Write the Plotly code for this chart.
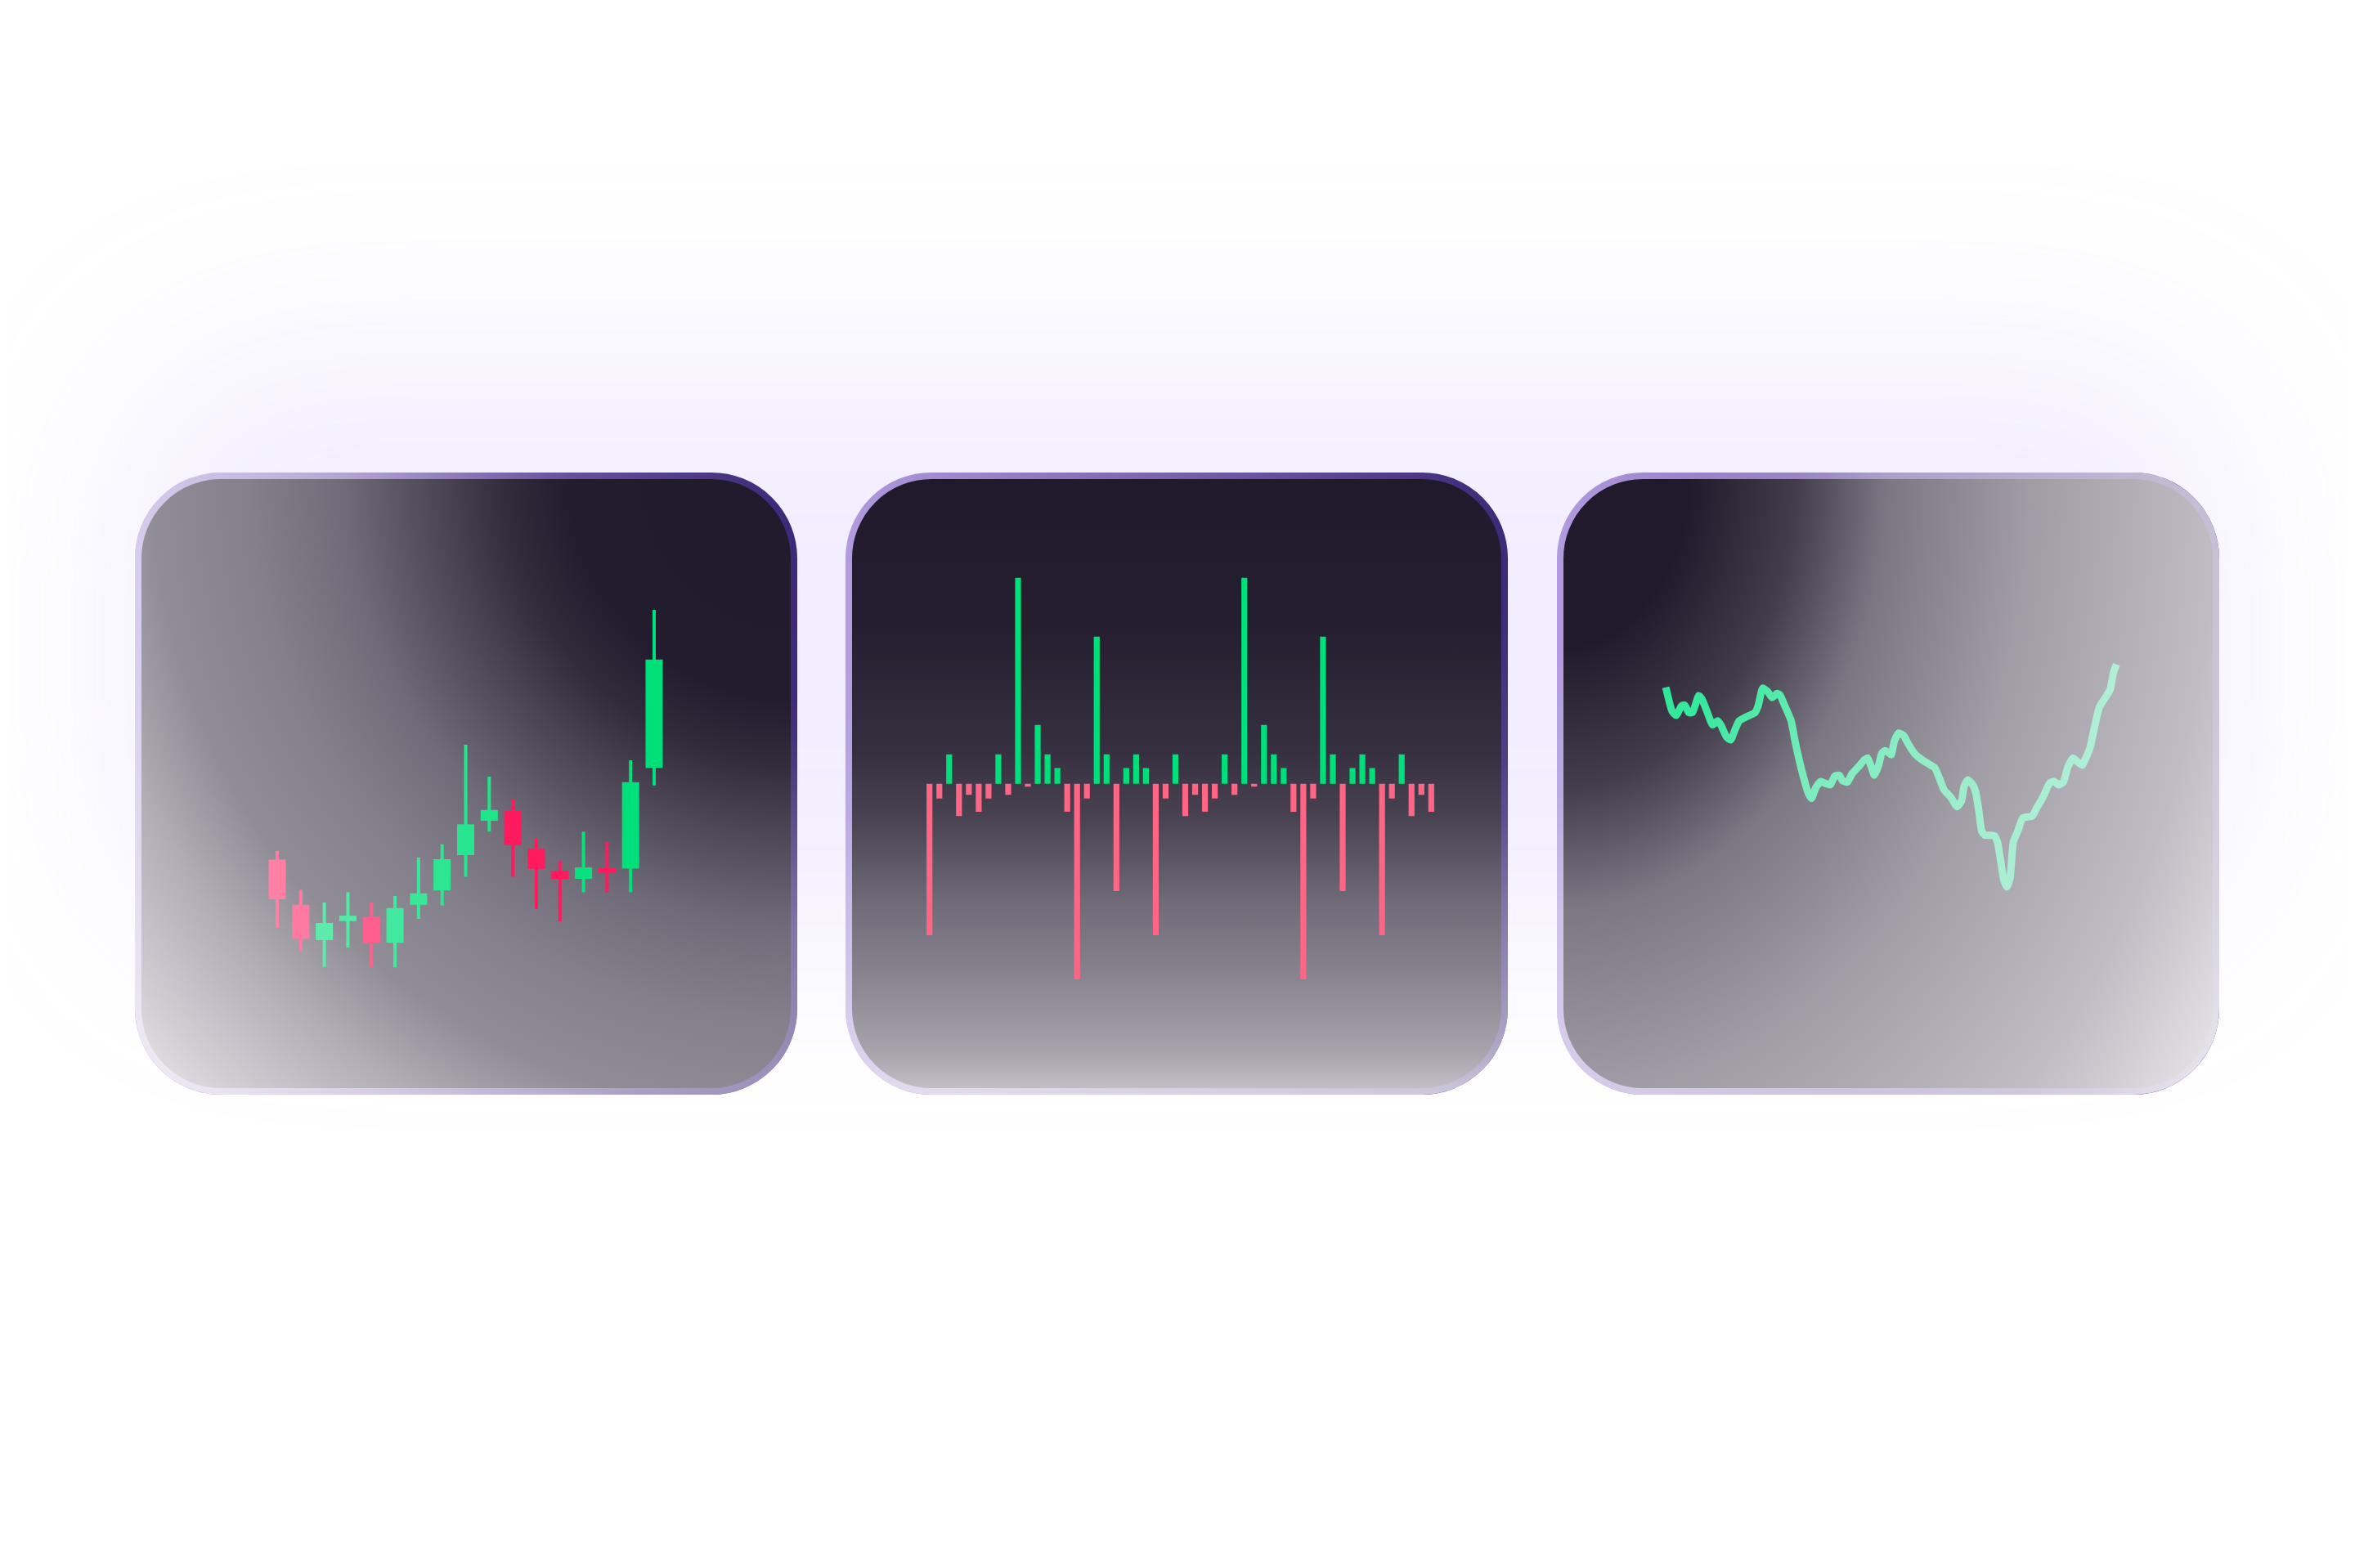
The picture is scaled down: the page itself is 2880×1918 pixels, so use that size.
import base64
import plotly.graph_objects as go

W, H = 2880, 1918

# ---------------- data ----------------
# Card 1: candlesticks
sessions = list(range(17))
candle_open = [37.1, 23.3, 12.5, 18.3, 19.6, 11.7, 23.3, 27.7, 38.5, 49.0, 52.0, 40.4, 33.7, 31.25, 34.75, 34.4, 65.2]
candle_high = [39.8, 27.9, 24.0, 27.1, 24.0, 26.0, 37.75, 41.8, 72.25, 62.5, 55.6, 43.75, 36.8, 45.7, 42.75, 67.5, 113.5]
candle_low = [16.25, 9.3, 4.3, 10.25, 4.3, 4.2, 19.0, 23.1, 31.9, 45.7, 31.9, 22.1, 18.2, 27.1, 27.1, 27.1, 59.8]
candle_close = [25.0, 12.9, 17.75, 20.0, 11.7, 22.3, 26.8, 37.25, 47.9, 52.3, 41.5, 34.3, 31.25, 34.75, 33.2, 60.8, 98.3]

# Card 2: positive / negative bars
bar_values = [
    -10.3, -1.0, 2.0, -2.2, -0.75, -1.9, -1.0, 2.0, -0.75, 14.0, -0.2, 4.0, 2.0,
    1.07, -1.9, -13.3, -1.0, 10.0, 2.0, -7.3, 1.07, 2.0, 1.07, -10.3, -1.0, 2.0,
    -2.2, -0.75, -1.9, -1.0, 2.0, -0.75, 14.0, -0.2, 4.0, 2.0, 1.07, -1.9, -13.3,
    -1.0, 10.0, 2.0, -7.3, 1.07, 2.0, 1.07, -10.3, -1.0, 2.0, -2.2, -0.75, -1.9,
]
bar_index = list(range(len(bar_values)))

# Card 3: line
line_t = [0, 1.4, 2.3, 3.5, 4.2, 5.1, 5.9, 7.3, 8.0, 9.0, 10.4, 11.5, 12.2, 13.5, 14.4,
          15.3, 16.3, 17.7, 19.8, 20.5, 21.5, 22.6, 23.6, 24.7, 25.3, 26.4, 27.8, 28.8,
          30.2, 31.6, 32.3, 33.3, 34.4, 35.4, 36.5, 37.5, 38.5, 39.2, 40.3, 41.3, 42.7,
          44.1, 44.8, 45.5, 46.3, 47.2, 47.9, 48.6, 49.3, 50.0, 50.7, 51.7, 52.8, 53.8,
          55.2, 56.6, 58.0, 59.7, 60.8, 61.8, 63.2, 64.6, 65.6, 66.2, 67.0, 68.1, 68.8,
          69.4, 70.1, 70.8, 71.9, 72.9, 73.6, 74.3, 75.0, 75.7, 76.4, 77.1, 78.1, 79.2,
          80.2, 81.3, 82.3, 83.7, 85.1, 86.1, 87.2, 88.2, 89.2, 90.3, 91.3, 92.4, 93.1,
          94.1, 95.1, 96.2, 97.6, 98.6, 99.3, 100.0]
line_p = [84.8, 76.0, 74.5, 78.0, 78.2, 75.5, 75.5, 81.7, 80.5, 76.5, 71.0, 72.5, 71.0,
          66.5, 65.5, 69.0, 72.5, 73.8, 75.5, 78.0, 84.5, 83.2, 81.0, 82.5, 82.0, 78.0,
          72.5, 64.0, 54.0, 46.0, 44.0, 48.0, 50.2, 49.5, 49.0, 52.2, 52.5, 50.5, 50.0,
          53.0, 55.5, 58.2, 58.8, 56.0, 52.5, 56.0, 60.5, 61.5, 61.0, 60.0, 65.0, 68.0,
          67.0, 64.0, 60.5, 58.5, 57.0, 55.2, 51.0, 47.0, 44.5, 41.0, 43.0, 48.5, 50.8,
          49.0, 46.0, 40.0, 32.0, 30.5, 30.5, 30.3, 28.0, 21.0, 14.0, 11.5, 15.0, 28.0,
          32.0, 36.8, 37.2, 37.5, 40.5, 44.5, 49.5, 50.3, 49.0, 50.0, 55.5, 58.8, 57.5,
          56.2, 58.5, 62.5, 70.0, 77.5, 81.2, 84.0, 90.0, 93.2]

# ---------------- styling ----------------
GREEN = (0, 224, 122)
RED_CANDLE = (255, 26, 94)
RED_BAR = "#FF6584"
BAR_GREEN = "#00E07A"
LINE_GREEN = "#1AE68E"
# how much each candle is washed out by the card's glassy light (left = paler)
candle_fade = [0.44, 0.42, 0.36, 0.33, 0.3, 0.26, 0.22, 0.18, 0.15, 0.12, 0.0, 0.0, 0.0, 0.03, 0.0, 0.0, 0.0]

OFF = 8  # page body margin compensation
CARD_Y, CARD_W, CARD_H, CARD_R = 578, 810, 761, 105
CARD_X = [165, 1034, 1904]


def xdom(a, b):
    return [(a - OFF) / W, (b - OFF) / W]


def ydom(top, bottom):
    return [1 - (bottom - OFF) / H, 1 - (top - OFF) / H]


def tint(rgb, f):
    r, g, b = (round(c + (255 - c) * f) for c in rgb)
    return f"rgb({r},{g},{b})"


fig = go.Figure()

# Card 1 candles drawn as wick + body bars on the axis scale
colors1 = [tint(GREEN if c >= o else RED_CANDLE, f)
           for o, c, f in zip(candle_open, candle_close, candle_fade)]
fig.add_trace(go.Bar(
    x=sessions, base=candle_low,
    y=[h - l for h, l in zip(candle_high, candle_low)],
    width=0.14, marker=dict(color=colors1, line=dict(width=0)),
    xaxis="x", yaxis="y", hoverinfo="skip"))
fig.add_trace(go.Bar(
    x=sessions, base=[min(o, c) for o, c in zip(candle_open, candle_close)],
    y=[abs(c - o) for o, c in zip(candle_open, candle_close)],
    width=0.73, marker=dict(color=colors1, line=dict(width=0)),
    xaxis="x", yaxis="y",
    customdata=list(zip(candle_open, candle_high, candle_low, candle_close)),
    hovertemplate="O %{customdata[0]}<br>H %{customdata[1]}<br>L %{customdata[2]}<br>C %{customdata[3]}<extra></extra>"))

# Card 2 bars
fig.add_trace(go.Bar(
    x=bar_index, y=bar_values, width=0.6,
    marker=dict(color=[BAR_GREEN if v > 0 else RED_BAR for v in bar_values], line=dict(width=0)),
    xaxis="x2", yaxis="y2"))

# Card 3 line
fig.add_trace(go.Scatter(
    x=line_t, y=line_p, mode="lines",
    line=dict(color=LINE_GREEN, width=9, shape="spline", smoothing=0.5),
    xaxis="x3", yaxis="y3"))

# ---------------- decorative card backgrounds (SVG) ----------------
def svg_uri(body):
    svg = (f"<svg xmlns='http://www.w3.org/2000/svg' width='{W}' height='{H}' "
           f"viewBox='0 0 {W} {H}'>{body}</svg>")
    return "data:image/svg+xml;base64," + base64.b64encode(svg.encode()).decode()


def stops(pairs, color):
    return "".join(f"<stop offset='{o}' stop-color='{color}' stop-opacity='{a}'/>" for o, a in pairs)


def card_rect(x, extra):
    return (f"<rect x='{x + 4}' y='{CARD_Y + 4}' width='{CARD_W - 8}' height='{CARD_H - 8}' "
            f"rx='{CARD_R - 4}' {extra}/>")


def card_fill(x, extra):
    return (f"<rect x='{x}' y='{CARD_Y}' width='{CARD_W}' height='{CARD_H}' "
            f"rx='{CARD_R}' {extra}/>")


OV = "#f4f3f6"
x1r, x3l = CARD_X[0] + CARD_W, CARD_X[2]
below = (
    "<defs>"
    "<filter id='glow' x='-30%' y='-80%' width='160%' height='260%'><feGaussianBlur stdDeviation='110'/></filter>"
    "<linearGradient id='edge' x1='0' y1='0' x2='1' y2='0'>"
    "<stop offset='0' stop-color='#b19ade'/><stop offset='1' stop-color='#3c2878'/></linearGradient>"
    "<linearGradient id='fade2' x1='0' y1='0' x2='0' y2='1'>"
    + stops([(0, 0), (0.25, 0.02), (0.45, 0.1), (0.55, 0.18), (0.69, 0.37), (0.8, 0.48), (0.93, 0.63), (1, 0.78)], OV)
    + "</linearGradient>"
    f"<radialGradient id='o1' gradientUnits='userSpaceOnUse' cx='{x1r}' cy='{CARD_Y}' r='1117'>"
    + stops([(0, 0), (0.25, 0.01), (0.32, 0.08), (0.495, 0.37), (0.6, 0.47), (0.707, 0.53), (0.8, 0.68), (1, 0.95)], OV)
    + "</radialGradient>"
    "</defs>"
    f"<rect width='{W}' height='{H}' fill='#ffffff'/>"
    f"<g transform='translate({-OFF},{-OFF})'>"
    "<rect x='150' y='430' width='2580' height='720' rx='200' fill='#c8b2ff' fill-opacity='0.22' filter='url(#glow)'/>"
)
for cx in CARD_X:
    below += card_rect(cx, "fill='#211a2c' stroke='url(#edge)' stroke-width='8'")
below += card_fill(CARD_X[0], "fill='url(#o1)'")
below += card_fill(CARD_X[1], "fill='url(#fade2)'")
below += "</g>"

above = (
    "<defs>"
    f"<radialGradient id='o3' gradientUnits='userSpaceOnUse' cx='0' cy='0' r='1' "
    f"gradientTransform='translate({x3l},{CARD_Y}) scale(1012,1332)'>"
    + stops([(0, 0), (0.16, 0.0), (0.29, 0.16), (0.4, 0.43), (0.49, 0.52), (0.57, 0.6), (0.8, 0.75), (1, 0.97)], OV)
    + "</radialGradient>"
    "</defs>"
    f"<g transform='translate({-OFF},{-OFF})'>"
    + card_fill(CARD_X[2], "fill='url(#o3)'")
    + "</g>"
)

img_common = dict(xref="paper", yref="paper", x=0, y=1, sizex=1, sizey=1,
                  xanchor="left", yanchor="top", sizing="stretch", opacity=1)

fig.update_layout(
    width=W, height=H,
    margin=dict(l=0, r=0, t=0, b=0),
    paper_bgcolor="#ffffff", plot_bgcolor="rgba(0,0,0,0)",
    showlegend=False, barmode="overlay",
    images=[
        dict(source=svg_uri(below), layer="below", **img_common),
        dict(source=svg_uri(above), layer="above", **img_common),
    ],
    xaxis=dict(domain=xdom(324.6, 814.4), range=[-0.5, 16.5], visible=False, fixedrange=True),
    yaxis=dict(domain=ydom(720, 1200), range=[0, 120], visible=False, fixedrange=True, anchor="x"),
    xaxis2=dict(domain=xdom(1130.7, 1756.3), range=[-0.5, 51.5], visible=False, fixedrange=True, anchor="y2"),
    yaxis2=dict(domain=ydom(688.7, 1210.7), range=[-14, 15], visible=False, fixedrange=True, anchor="x2"),
    xaxis3=dict(domain=xdom(2009.6, 2615.9), range=[-5, 105], visible=False, fixedrange=True, anchor="y3"),
    yaxis3=dict(domain=ydom(790, 1123.3), range=[0, 100], visible=False, fixedrange=True, anchor="x3"),
)

fig.write_html("out.html", config={"displayModeBar": False})
